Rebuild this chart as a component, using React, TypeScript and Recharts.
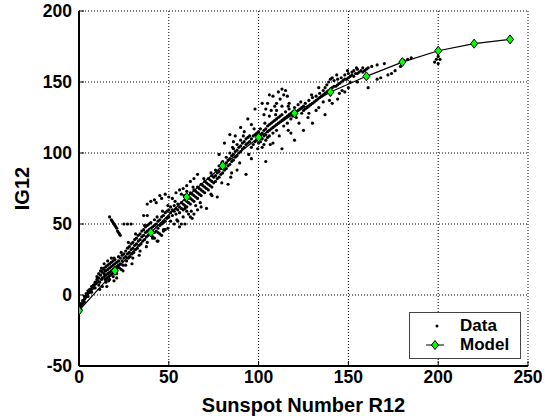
import React from 'react';
import { ScatterChart, Scatter, XAxis, YAxis, CartesianGrid } from 'recharts';

const xTicks = [0, 50, 100, 150, 200, 250];
const yTicks = [-50, 0, 50, 100, 150, 200];

const modelX = [0, 20, 40, 60, 80, 100, 120, 140, 160, 180, 200, 220, 240];
const modelY = [-11, 17, 44, 69, 91, 111, 128, 143, 154, 164, 172, 177, 180];

const dataPairs: number[][] = [
  [0.5,-11],[1,-10],[0.5,-9],[1,-8],[1.5,-7],[2,-6],[2.5,-4],[3,-3],[3.5,-2],[4,-1],[4.5,0],[5,1],[5.5,2],[6,2],[6.5,3],[7,4],[7.5,5],[8,5],[8.5,7],[9,8],[9.5,8],[10,9],[1,-6],[2,-4],[3,-1],[4,1],[5,3],[6,4],[7,6],[8,7],[9,9],[10,11],[3,-5],[5,-1],[7,2],[9,5],
  [10,13],[10.5,10],[11,12],[11,15],[11.5,9],[12,14],[12,17],[12.5,11],[13,12],[13,16],[13.5,18],[14,13],[14,15],[14,19],[14.5,11],[15,14],[15,17],[15,20],[15.5,12],[16,15],[16,18],[16,21],[16.5,13],[17,16],[17,19],[17,22],[17.5,14],[18,17],[18,20],[18,23],[18.5,15],[19,18],[19,21],[19,24],[19.5,16],[20,19],[20,22],[20,25],[20.5,17],[21,20],[21,23],[21,15],[22,21],[22,24],[22,27],[22.5,19],[23,22],[23,26],[23.5,18],[24,24],[24,28],[24.5,21],[25,26],[25,29],[13,6],[15,9],[17,11],[19,13],[21,12],[11,7],[14,22],[16,24],[18,26],
  [26,27],[26,31],[26.5,24],[27,29],[27,33],[27.5,26],[28,30],[28,34],[28.5,27],[29,32],[29,36],[29.5,29],[30,33],[30,37],[30.5,30],[31,35],[31,39],[31.5,32],[32,36],[32,40],[32.5,33],[33,38],[33,42],[33.5,35],[34,39],[34,43],[34.5,36],[35,41],[35,45],[35.5,38],[36,42],[36,46],[36.5,39],[37,44],[37,48],[37.5,41],[38,45],[38,49],[38.5,42],[39,46],[39,50],[39.5,43],[40,47],[40,51],[40.5,44],[41,48],[41,41],[42,49],[42,53],[42,40],[43,50],[43,45],[44,52],[44,47],[45,53],[45,49],[45,43],[46,55],[46,50],[47,56],[47,51],[47,45],[48,58],[48,52],[49,59],[49,54],[50,60],[50,55],[26,21],[30,26],[34,31],[38,37],[42,44],[44,38],[46,42],[48,46],
  [17,55],[18,53],[18.5,52],[19,51],[19.5,50],[20,49],[20.5,48],[21,47],[21.5,45],[22,44],[22.5,43],[23,42],
  [25,50],[27,50],[29,50],[36,56],[38,56],[38,64],[40,66],[42,67],[43,65],[45,70],[46,68],[48,71],[50,69],[41,40],[44,44],[47,46],[51,52],[53,50],[59,50],
  [51,58],[51,62],[52,56],[52,60],[53,59],[53,63],[54,57],[54,61],[55,60],[55,64],[56,58],[56,62],[57,61],[57,65],[58,60],[58,64],[59,63],[59,67],[60,62],[60,66],[60,70],[61,65],[61,69],[62,64],[62,68],[62,72],[63,67],[63,71],[64,66],[64,70],[64,74],[65,69],[65,73],[66,68],[66,72],[66,76],[67,71],[67,75],[68,70],[68,74],[68,78],[69,73],[69,77],[70,72],[70,76],[70,80],[71,75],[71,79],[72,74],[72,78],[72,82],[73,77],[73,81],[74,76],[74,80],[74,84],[75,79],[75,83],
  [55,52],[57,50],[59,61],[60,59],[61,57],[62,55],[63,54],[64,57],[66,60],[68,62],[71,61],[58,55],[56,48],[65,63],
  [52,68],[54,72],[56,74],[58,75],[60,77],[62,80],[64,82],[66,85],[60,73],[57,71],
  [76,80],[76,84],[76,88],[77,82],[77,86],[78,83],[78,87],[78,91],[79,85],[79,89],[80,86],[80,90],[80,94],[81,88],[81,92],[82,89],[82,93],[82,97],[83,91],[83,95],[84,92],[84,96],[84,100],[85,94],[85,98],[86,95],[86,99],[86,103],[87,97],[87,101],[88,98],[88,102],[88,106],[89,100],[89,104],[90,101],[90,105],[90,109],[91,103],[91,107],[92,104],[92,108],[93,106],[93,110],[94,107],[94,111],[95,108],[95,112],[96,104],[96,110],[97,106],[97,112],[98,108],[98,113],[99,109],[99,114],[100,107],[100,111],[100,115],
  [78,99],[81,107],[84,113],[87,112],[90,118],[92,115],[94,124],[96,120],[98,131],[86,108],
  [77,69],[83,78],[88,88],[93,85],[96,96],[74,70],[85,86],
  [101,108],[101,113],[101,117],[102,110],[102,114],[102,104],[103,112],[103,116],[103,106],[104,113],[104,117],[104,109],[105,115],[105,119],[105,111],[106,116],[106,120],[106,112],[107,117],[107,121],[108,118],[108,122],[108,114],[109,119],[109,123],[110,120],[110,124],[110,116],[111,121],[111,125],[112,122],[112,126],[113,123],[113,127],[114,124],[114,119],[115,125],[115,129],[116,126],[116,121],[117,127],[117,131],[118,128],[118,124],[119,129],[119,126],[120,128],[120,132],[121,129],[121,125],[122,130],[122,134],[123,131],[124,132],[124,128],[125,133],[125,130],
  [102,135],[104,131],[105,135],[106,141],[107,130],[108,140],[109,133],[110,135],[112,138],[113,145],[114,141],[116,140],[117,135],[111,143],[115,144],[103,127],[106,126],[110,130],[113,133],
  [104,94],[113,103],[120,109],[125,116],[130,121],[137,127],[118,114],[108,107],
  [126,131],[126,135],[127,132],[128,133],[128,137],[129,134],[130,135],[130,139],[131,136],[132,137],[132,140],[133,138],[134,139],[134,142],[135,140],[136,141],[136,144],[137,142],[137,146],[138,143],[138,148],[139,144],[139,150],[140,145],[140,152],[140,141],[141,146],[141,153],[142,147],[142,151],[143,147],[144,148],[144,152],[145,149],[146,150],[146,153],[147,151],[148,152],[148,155],[149,152],[150,153],[150,156],[151,154],[151,150],[152,155],[152,157],[153,154],[153,158],[154,156],[155,156],[155,159],[156,157],[157,158],[158,157],[158,160],[159,158],[160,159],[161,160],
  [128,128],[132,130],[136,136],[141,135],[145,142],[150,146],[155,150],[161,146],[166,152],[168,153],[172,155],[174,156],[176,158],[179,161],[144,138],[148,143],
  [163,161],[166,162],[170,163],[181,165],[183,166],[185,167],[198,164],[199,166],[200,163],[201,166],[200,168],
  [12.5,19],[14.5,17],[16.5,10],[19.5,26],[23.5,30],[27.5,37],[31.5,43],[36.5,49],[43.5,55],[46.5,59],[49.5,63],[53.5,66],[58.5,70],[63.5,76],[69.5,82],[73.5,86],[79.5,93],[85.5,104],[91.5,112],[97.5,117],[103.5,121],[109.5,127],[116.5,133],[123.5,136],[129.5,141],[133.5,146],[143.5,155],[149.5,158],[154.5,160],
  [11.5,4],[15.5,6],[19.5,10],[24.5,17],[29.5,22],[33.5,28],[37.5,34],[43.5,38],[49.5,47],[54.5,53],[62.5,59],[67.5,65],[73.5,71],[79.5,79],[84.5,83],[89.5,93],[94.5,99],[99.5,103],[106.5,106],[111.5,112],[116.5,116],[122.5,121],[127.5,125],[133.5,132],[139.5,137],[146.5,144]
];

const scatterData = dataPairs.map(([x, y]) => ({ x, y }));
const modelData = modelX.map((x, i) => ({ x, y: modelY[i] }));

const FONT = '"Liberation Sans", Arial, Helvetica, sans-serif';

const Dot = (props: any) => {
  const { cx, cy } = props;
  if (cx == null || cy == null) return null;
  return <circle cx={cx} cy={cy} r={1.6} fill="#000" />;
};

const Diamond = (props: any) => {
  const { cx, cy } = props;
  if (cx == null || cy == null) return null;
  return (
    <polygon
      points={`${cx},${cy - 4.5} ${cx + 3.5},${cy} ${cx},${cy + 4.5} ${cx - 3.5},${cy}`}
      fill="#00ff00"
      stroke="#000"
      strokeWidth={1}
    />
  );
};

const LegendBox = () => (
  <div style={{ position: 'absolute', left: 409, top: 312, width: 112, height: 47, boxSizing: 'border-box', border: '1px solid #444', background: '#fff', fontFamily: FONT, fontWeight: 'bold', fontSize: 17, color: '#000' }}>
    <svg width={50} height={45} style={{ position: 'absolute', left: 0, top: 0 }}>
      <circle cx={27} cy={13} r={1.5} fill="#000" />
      <line x1={16} x2={34} y1={32} y2={32} stroke="#000" strokeWidth={1} />
      <polygon points="25,27.5 28.5,32 25,36.5 21.5,32" fill="#00ff00" stroke="#000" strokeWidth={1} />
    </svg>
    <div style={{ position: 'absolute', left: 50, top: 3, lineHeight: '19px' }}>Data</div>
    <div style={{ position: 'absolute', left: 50, top: 22, lineHeight: '19px' }}>Model</div>
  </div>
);

export default function App() {
  return (
    <div style={{ position: 'absolute', left: 0, top: 0, width: 545, height: 418, background: '#fff' }}>
      <ScatterChart width={545} height={418} margin={{ top: 11, right: 17, left: 0, bottom: 0 }}>
        <CartesianGrid stroke="#000" strokeDasharray="1 2" strokeWidth={1} horizontalValues={yTicks} verticalValues={xTicks} />
        <XAxis
          type="number"
          dataKey="x"
          domain={[0, 250]}
          ticks={xTicks}
          allowDataOverflow
          height={52}
          stroke="#000"
          axisLine={{ stroke: '#000', strokeWidth: 2 }}
          tickLine={{ stroke: '#000', strokeWidth: 1 }}
          tickSize={-5}
          tickMargin={10}
          tick={{ fill: '#000', fontSize: 17.5, fontWeight: 'bold', fontFamily: FONT }}
          label={{
            content: (p: any) => {
              const vb = p.viewBox || { x: 79, y: 366, width: 449, height: 52 };
              const cx = vb.x + vb.width / 2;
              return (
                <text x={cx} y={vb.y + 46} textAnchor="middle" fill="#000" fontSize={20} fontWeight="bold" fontFamily={FONT}>
                  Sunspot Number R12
                </text>
              );
            },
          }}
        />
        <YAxis
          type="number"
          dataKey="y"
          domain={[-50, 200]}
          ticks={yTicks}
          allowDataOverflow
          width={79}
          stroke="#000"
          axisLine={{ stroke: '#000', strokeWidth: 2 }}
          tickLine={{ stroke: '#000', strokeWidth: 1 }}
          tickSize={-5}
          tickMargin={12}
          tick={{ fill: '#000', fontSize: 17.5, fontWeight: 'bold', fontFamily: FONT }}
          label={{
            content: (p: any) => {
              const vb = p.viewBox || { x: 0, y: 11, width: 79, height: 355 };
              const lx = vb.x + 22;
              const ly = vb.y + vb.height / 2;
              return (
                <text x={lx} y={ly} transform={`rotate(-90 ${lx} ${ly})`} textAnchor="middle" dominantBaseline="central" fill="#000" fontSize={20} fontWeight="bold" fontFamily={FONT}>
                  IG12
                </text>
              );
            },
          }}
        />
        <Scatter name="Data" data={scatterData} shape={Dot} isAnimationActive={false} />
        <Scatter
          name="Model"
          data={modelData}
          shape={Diamond}
          line={{ stroke: '#000', strokeWidth: 1.2 }}
          lineType="joint"
          isAnimationActive={false}
        />
      </ScatterChart>
      <LegendBox />
    </div>
  );
}
